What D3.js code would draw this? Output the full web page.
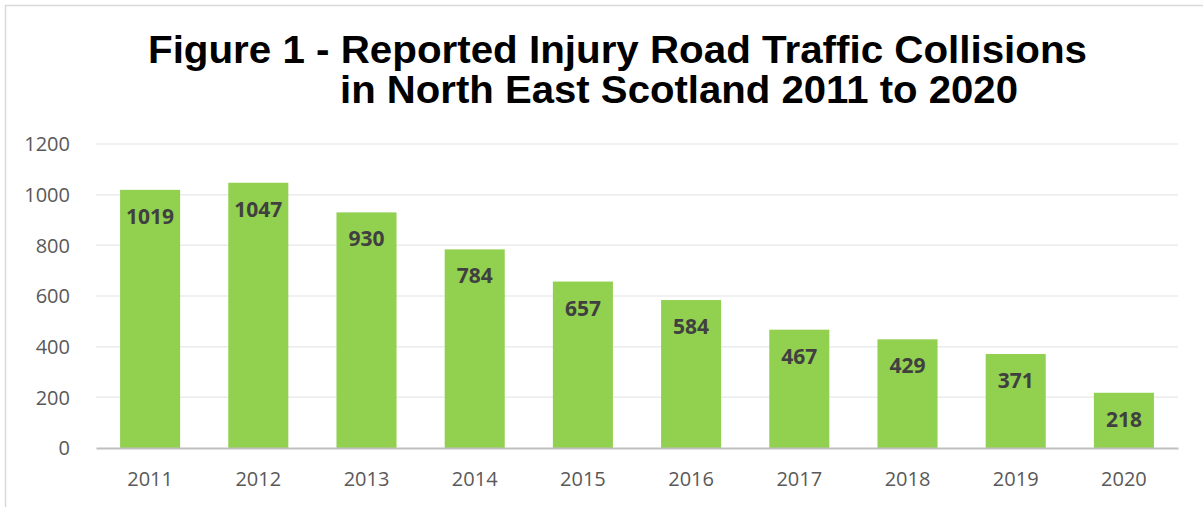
<!DOCTYPE html>
<html>
<head>
<meta charset="utf-8">
<script src="https://cdn.jsdelivr.net/npm/d3@7"></script>
<style>
  body { margin: 0; background: #fff; }
  .tick text { font-family: "Open Sans", sans-serif; fill: #595959; }
</style>
</head>
<body>
<div class="chart"></div>
<script>
const years = ["2011", "2012", "2013", "2014", "2015", "2016", "2017", "2018", "2019", "2020"];
const collisions = [1019, 1047, 930, 784, 657, 584, 467, 429, 371, 218];
const yTicks = [0, 200, 400, 600, 800, 1000, 1200];
const titleLines = ["Figure 1 - Reported Injury Road Traffic Collisions", "in North East Scotland 2011 to 2020"];

const w = 1203, h = 507;
const margin = { left: 96, right: 25, top: 144, bottom: 59 };
const chartWidth = w - margin.left - margin.right;
const chartHeight = h - margin.top - margin.bottom;

const svg = d3.select(".chart").append("svg")
    .attr("width", w)
    .attr("height", h);

// outer frame (only left/top edges visible)
svg.append("rect")
    .attr("x", 5.5).attr("y", 5.5)
    .attr("width", 1400).attr("height", 800)
    .attr("fill", "none")
    .attr("stroke", "#d9d9d9")
    .attr("stroke-width", 1.5);

// title
const titleSpec = [
    { x: 148, y: 63, len: 939 },
    { x: 340, y: 103, len: 678 }
];
svg.selectAll("text.title")
    .data(titleLines)
    .enter().append("text")
    .attr("class", "title")
    .attr("x", (d, i) => titleSpec[i].x)
    .attr("y", (d, i) => titleSpec[i].y)
    .attr("textLength", (d, i) => titleSpec[i].len)
    .attr("lengthAdjust", "spacingAndGlyphs")
    .style("font-family", "'Liberation Sans', Arial, sans-serif")
    .style("font-weight", "bold")
    .style("font-size", "38px")
    .style("fill", "#000")
    .text(d => d);

const g = svg.append("g")
    .attr("transform", `translate(${margin.left},${margin.top})`);

const x = d3.scaleBand()
    .domain(years)
    .range([0, chartWidth])
    .paddingInner(0.445)
    .paddingOuter(0.2225);

const y = d3.scaleLinear()
    .domain([0, 1200])
    .range([chartHeight, 0]);

// gridlines
g.append("g")
    .selectAll("line")
    .data(yTicks.filter(t => t > 0))
    .enter().append("line")
    .attr("x1", 0).attr("x2", chartWidth)
    .attr("y1", d => y(d)).attr("y2", d => y(d))
    .attr("stroke", "#ececec")
    .attr("stroke-width", 1.5);

// y axis
const yAxis = g.append("g")
    .call(d3.axisLeft(y).tickValues(yTicks).tickFormat(d3.format("d")).tickSize(0).tickPadding(26));
yAxis.select(".domain").remove();
yAxis.selectAll("text").style("font-size", "20px").attr("dy", "0.34em");

// bars
g.selectAll("rect.bar")
    .data(collisions)
    .enter().append("rect")
    .attr("class", "bar")
    .attr("x", (d, i) => x(years[i]))
    .attr("y", d => y(d))
    .attr("width", x.bandwidth())
    .attr("height", d => chartHeight - y(d))
    .attr("fill", "#92d050");

// value labels
g.selectAll("text.value")
    .data(collisions)
    .enter().append("text")
    .attr("class", "value")
    .attr("x", (d, i) => x(years[i]) + x.bandwidth() / 2)
    .attr("y", d => y(d) + 34)
    .attr("text-anchor", "middle")
    .style("font-family", "'Open Sans', sans-serif")
    .style("font-weight", "bold")
    .style("font-size", "21px")
    .style("fill", "#404040")
    .text(d => d);

// x axis
const xAxis = g.append("g")
    .attr("transform", `translate(0,${chartHeight})`)
    .call(d3.axisBottom(x).tickSize(0).tickPadding(24));
xAxis.select(".domain")
    .attr("stroke", "#bfbfbf")
    .attr("stroke-width", 2);
xAxis.selectAll("text").style("font-size", "20px");
</script>
</body>
</html>
